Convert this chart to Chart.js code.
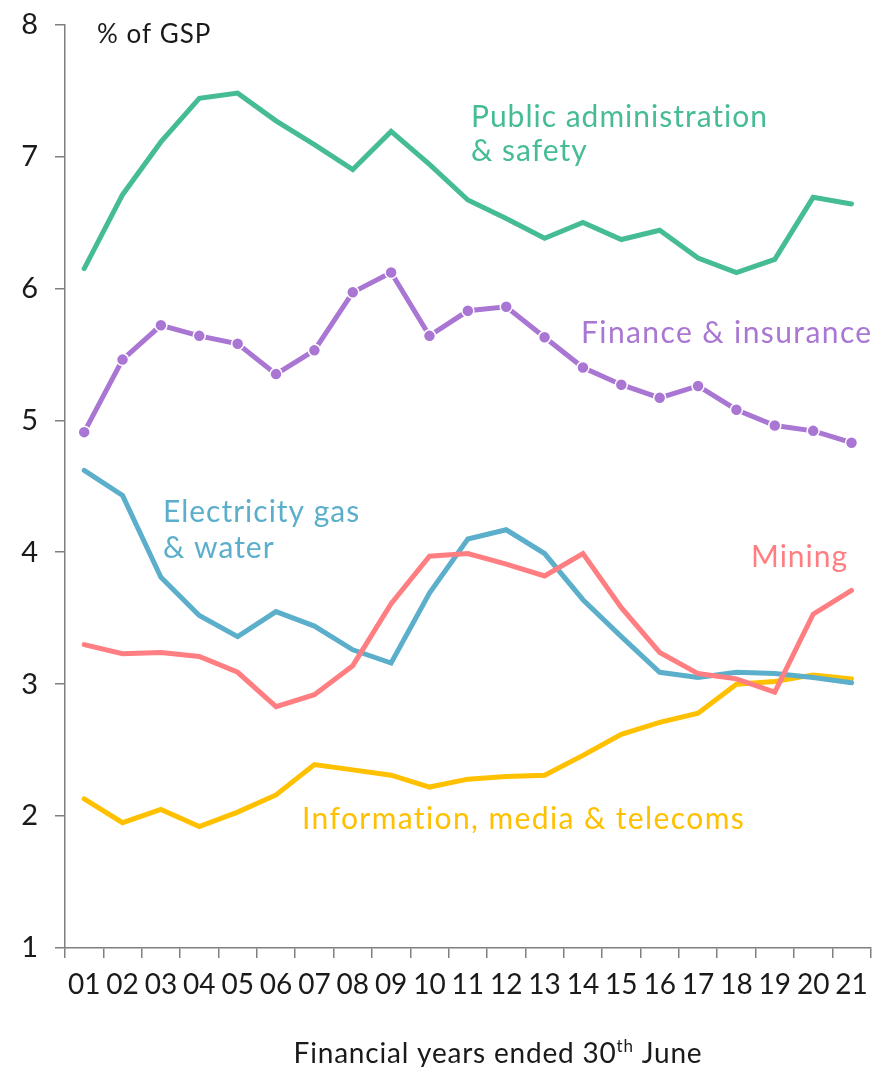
<!DOCTYPE html>
<html>
<head>
<meta charset="utf-8">
<script src="https://cdn.jsdelivr.net/npm/chart.js@4.4.1/dist/chart.umd.min.js"></script>
<style>
  html, body { margin: 0; padding: 0; background: #fff; }
  #wrap { width: 872px; height: 1067px; }
</style>
</head>
<body>
<div id="wrap"><canvas id="gsp-chart" width="872" height="1067"></canvas></div>
<script>
const years = ['01', '02', '03', '04', '05', '06', '07', '08', '09', '10', '11',
               '12', '13', '14', '15', '16', '17', '18', '19', '20', '21'];
const yTicks = [1, 2, 3, 4, 5, 6, 7, 8];

const publicAdmin = [6.15, 6.71, 7.11, 7.44, 7.48, 7.27, 7.09, 6.90, 7.19, 6.94, 6.67,
                     6.53, 6.38, 6.50, 6.37, 6.44, 6.23, 6.12, 6.22, 6.69, 6.64];
const finance     = [4.91, 5.46, 5.72, 5.64, 5.58, 5.35, 5.53, 5.97, 6.12, 5.64, 5.83,
                     5.86, 5.63, 5.40, 5.27, 5.17, 5.26, 5.08, 4.96, 4.92, 4.83];
const electricity = [4.62, 4.43, 3.81, 3.52, 3.36, 3.55, 3.44, 3.26, 3.16, 3.69, 4.10,
                     4.17, 3.99, 3.64, 3.36, 3.09, 3.05, 3.09, 3.08, 3.05, 3.01];
const mining      = [3.30, 3.23, 3.24, 3.21, 3.09, 2.83, 2.92, 3.14, 3.61, 3.97, 3.99,
                     3.91, 3.82, 3.99, 3.58, 3.24, 3.08, 3.04, 2.94, 3.53, 3.71];
const infoMedia   = [2.13, 1.95, 2.05, 1.92, 2.03, 2.16, 2.39, 2.35, 2.31, 2.22, 2.28,
                     2.30, 2.31, 2.46, 2.62, 2.71, 2.78, 3.00, 3.02, 3.07, 3.04];

const GREEN = '#46BC96';
const PURPLE = '#A977D3';
const BLUE = '#5BAFCB';
const RED = '#FF7E82';
const YELLOW = '#FFC000';
const AXIS = '#7f7f7f';
const FONT = 'Lato, "Noto Sans", sans-serif';

// series names written next to their lines (left x, baseline y in px)
const seriesLabels = [
    { lines: ['Public administration', '& safety'], color: GREEN, x: 471, y: 127, step: 34, spacing: 1 },
    { lines: ['Finance & insurance'], color: PURPLE, x: 581, y: 343, step: 0, spacing: 1.4 },
    { lines: ['Electricity gas', '& water'], color: BLUE, x: 163, y: 522, step: 36, spacing: 1 },
    { lines: ['Mining'], color: RED, x: 751, y: 567, step: 0, spacing: 1 },
    { lines: ['Information, media & telecoms'], color: YELLOW, x: 302, y: 829, step: 0, spacing: 1.4 }
];

function lineSet(label, data, color, order) {
    return {
        label: label,
        data: data,
        borderColor: color,
        backgroundColor: color,
        borderWidth: 5,
        tension: 0,
        borderCapStyle: 'round',
        pointRadius: 0,
        pointHoverRadius: 0,
        order: order
    };
}

const financeSet = lineSet('Finance & insurance', finance, PURPLE, 2);
financeSet.pointRadius = 6;
financeSet.pointBorderWidth = 1.5;
financeSet.pointBorderColor = '#ffffff';
financeSet.pointBackgroundColor = PURPLE;

const labelPlugin = {
    id: 'labelPlugin',
    afterDraw(chart) {
        const ctx = chart.ctx;
        ctx.save();
        ctx.textBaseline = 'alphabetic';
        ctx.textAlign = 'left';

        ctx.letterSpacing = '1px';
        ctx.font = '26px ' + FONT;
        ctx.fillStyle = '#1a1a1a';
        ctx.fillText('% of GSP', 97, 43);

        ctx.font = '30px ' + FONT;
        seriesLabels.forEach(function(s) {
            ctx.fillStyle = s.color;
            ctx.letterSpacing = s.spacing + 'px';
            s.lines.forEach(function(t, i) {
                ctx.fillText(t, s.x, s.y + i * s.step);
            });
        });

        // x axis title with superscript "th"
        ctx.letterSpacing = '0.8px';
        const main = '28px ' + FONT;
        const sup = '17px ' + FONT;
        const parts = [['Financial years ended 30', main, 0], ['th', sup, -11], [' June', main, 0]];
        let total = 0;
        parts.forEach(function(p) { ctx.font = p[1]; total += ctx.measureText(p[0]).width; });
        let x = 498 - total / 2;
        ctx.fillStyle = '#1a1a1a';
        parts.forEach(function(p) {
            ctx.font = p[1];
            ctx.fillText(p[0], x, 1063 + p[2]);
            x += ctx.measureText(p[0]).width;
        });
        ctx.restore();
    }
};

new Chart(document.getElementById('gsp-chart'), {
    type: 'line',
    data: {
        labels: years,
        datasets: [
            lineSet('Public administration & safety', publicAdmin, GREEN, 1),
            financeSet,
            lineSet('Mining', mining, RED, 3),
            lineSet('Electricity gas & water', electricity, BLUE, 4),
            lineSet('Information, media & telecoms', infoMedia, YELLOW, 5)
        ]
    },
    options: {
        responsive: false,
        animation: false,
        layout: {
            autoPadding: false,
            padding: { top: 24.5, right: 1.3, left: 0, bottom: 0 }
        },
        plugins: {
            legend: { display: false },
            tooltip: { enabled: false },
            title: { display: false }
        },
        scales: {
            x: {
                offset: true,
                grid: {
                    offset: true,
                    drawOnChartArea: false,
                    tickLength: 10,
                    color: AXIS,
                    lineWidth: 1.5
                },
                border: { color: AXIS, width: 1.5 },
                ticks: {
                    color: '#1a1a1a',
                    font: { family: FONT, size: 28 },
                    padding: 10,
                    maxRotation: 0,
                    autoSkip: false
                },
                afterFit(scale) {
                    scale.height = 119;
                    scale.paddingLeft = 0;
                    scale.paddingRight = 0;
                }
            },
            y: {
                min: 1,
                max: 8,
                afterBuildTicks(scale) { scale.ticks = yTicks.map(v => ({ value: v })); },
                grid: {
                    drawOnChartArea: false,
                    tickLength: 10,
                    color: AXIS,
                    lineWidth: 1.5
                },
                border: { color: AXIS, width: 1.5 },
                ticks: {
                    color: '#1a1a1a',
                    font: { family: FONT, size: 29 },
                    padding: 17
                },
                afterFit(scale) {
                    scale.width = 65;
                    scale.paddingTop = 0;
                    scale.paddingBottom = 0;
                }
            }
        }
    },
    plugins: [labelPlugin]
});
</script>
</body>
</html>
